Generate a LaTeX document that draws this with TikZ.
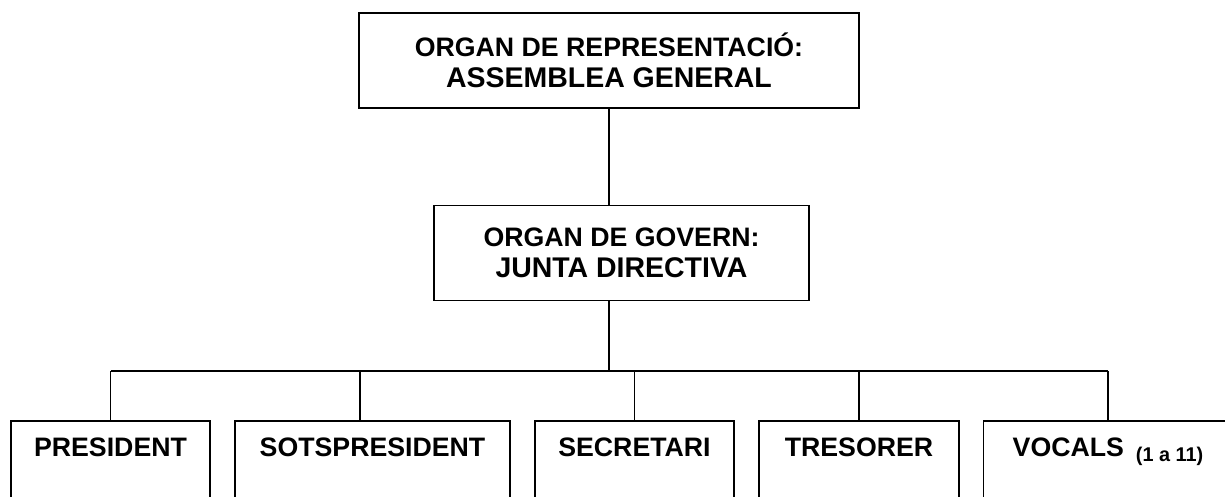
\documentclass[tikz,border=0pt]{standalone}
\usepackage{fontspec}
\setmainfont{Liberation Sans}
\usetikzlibrary{positioning,calc}

\begin{document}
\begin{tikzpicture}[x=0.02cm,y=-0.02cm,line width=1.1pt,
  every node/.style={draw,align=center,font=\bfseries\fontsize{15.2}{17.5}\selectfont},
  organ/.style={minimum height=1.9cm,inner sep=0pt},
  carrec/.style={anchor=north,inner xsep=0pt,inner ysep=0.34cm,text height=0.38cm,text depth=2.5cm}]

  \useasboundingbox (0,0) rectangle (1225,497);
  \clip (0,0) rectangle (1225,497);

  % organs
  \node[organ,minimum width=10cm] (assemblea) at (609,60.5)
    {ORGAN DE REPRESENTACIÓ:\\{\fontsize{16.2}{17.5}\selectfont ASSEMBLEA GENERAL}};
  \node[organ,minimum width=7.5cm] (junta) at (621.5,253)
    {ORGAN DE GOVERN:\\{\fontsize{16.2}{17.5}\selectfont JUNTA DIRECTIVA}};

  % carrecs
  \node[carrec,minimum width=3.98cm] (president) at (110.5,420) {PRESIDENT};
  \node[carrec,minimum width=5.5cm] (sotspresident) at (372.5,420) {SOTSPRESIDENT};
  \node[carrec,minimum width=3.98cm] (secretari) at (634.5,420) {SECRETARI};
  \node[carrec,minimum width=4cm] (tresorer) at (859,420) {TRESORER};
  \node[carrec,minimum width=4.98cm] (vocals) at (1108,420)
    {VOCALS\hspace{0.24cm}\raisebox{-0.1cm}{\fontsize{11.3}{13}\selectfont (1 a 11)}};

  % connectors
  \coordinate (bus) at (609,371);
  \draw (assemblea.south) -- (assemblea.south |- junta.north);
  \draw (assemblea.south |- junta.south) -- (bus);
  \draw (president.north |- bus) -- (vocals.north |- bus);
  \foreach \n in {president,secretari,tresorer,vocals}
    \draw (\n.north) -- (\n.north |- bus);
  \coordinate (sotsjoin) at ($(sotspresident.north west)!.455!(sotspresident.north east)$);
  \draw (sotsjoin) -- (sotsjoin |- bus);
\end{tikzpicture}
\end{document}
